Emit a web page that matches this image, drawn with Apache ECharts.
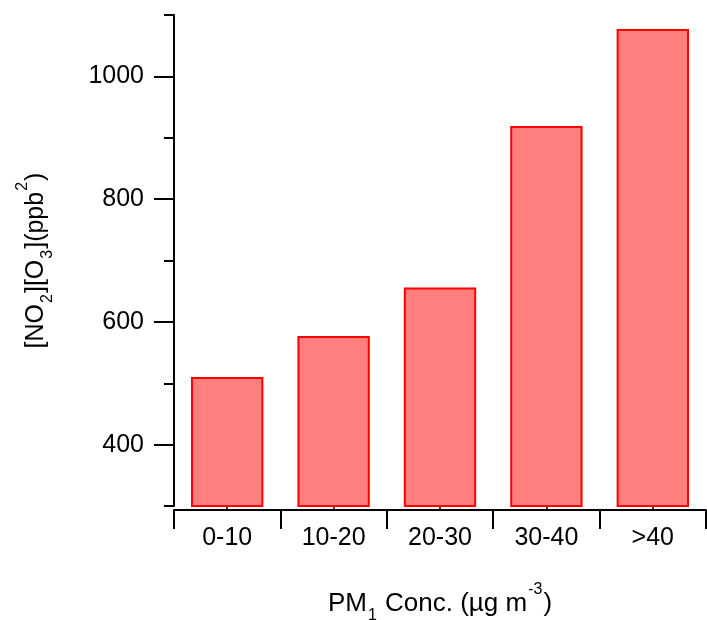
<!DOCTYPE html>
<html>
<head>
<meta charset="utf-8">
<script src="https://cdn.jsdelivr.net/npm/echarts@6/dist/echarts.min.js"></script>
<style>
  html, body { margin: 0; padding: 0; background: #fff; }
  #chart { width: 707px; height: 620px; }
</style>
</head>
<body>
<div id="chart"></div>
<script>
// PM1 concentration bins and the mean [NO2][O3] product in each bin
const categories = ['0-10', '10-20', '20-30', '30-40', '>40'];
const values = [510, 577, 656, 919, 1077];

// Left axis runs 300..1100 in steps of 100; every other step carries a label
const yMin = 300;
const yMax = 1100;
const yStep = 100;
const yTickLabels = ['300', '400', '500', '600', '700', '800', '900', '1000', '1100'];

const FONT = 'Liberation Sans, Arial, sans-serif';
const black = '#000';

const chart = echarts.init(document.getElementById('chart'), null, { renderer: 'canvas' });

function nameRich(size) {
  return {
    n: { fontFamily: FONT, fontSize: size, color: black, lineHeight: size + 6 },
    sub: { fontFamily: FONT, fontSize: 16, color: black, lineHeight: 16, verticalAlign: 'bottom', padding: [0, 1, -4, 1] },
    sup: { fontFamily: FONT, fontSize: 16, color: black, lineHeight: 16, verticalAlign: 'top', padding: [-6, 1, 0, 1] }
  };
}

chart.setOption({
  animation: false,
  backgroundColor: '#fff',
  grid: { left: 174, right: 1, top: 15, bottom: 114, containLabel: false, outerBoundsMode: 'none' },
  xAxis: [
    {
      type: 'category',
      data: categories,
      boundaryGap: true,
      offset: 4,
      axisLine: { lineStyle: { color: black, width: 2 } },
      axisTick: { show: true, length: 19, lineStyle: { color: black, width: 2 } },
      axisLabel: { color: black, fontFamily: FONT, fontSize: 25, margin: 16 },
      name: '{n|PM}{sub|1}{n| Conc. (µg m}{sup|-3}{n|)}',
      nameLocation: 'middle',
      nameGap: 78,
      nameTextStyle: { rich: nameRich(26) }
    },
    {
      type: 'category',
      data: categories,
      position: 'bottom',
      offset: 4,
      boundaryGap: true,
      axisLine: { show: false },
      axisTick: { show: true, alignWithLabel: true, inside: true, length: 3, lineStyle: { color: black, width: 1.5 } },
      axisLabel: { show: false }
    }
  ],
  yAxis: [
    {
      type: 'value',
      min: yMin,
      max: yMax,
      interval: yStep,
      axisLine: { show: true, lineStyle: { color: black, width: 2 } },
      axisTick: { show: true, length: 10, lineStyle: { color: black, width: 2 } },
      axisLabel: { show: false },
      splitLine: { show: false },
      name: '{n|[NO}{sub|2}{n|][O}{sub|3}{n|](ppb}{sup|2}{n|)}',
      nameLocation: 'middle',
      nameGap: 122,
      nameRotate: 90,
      nameTextStyle: { rich: nameRich(25) }
    },
    {
      type: 'category',
      data: yTickLabels,
      boundaryGap: false,
      position: 'left',
      axisLine: { show: false },
      axisTick: { show: true, length: 20, interval: (i) => i % 2 === 1, lineStyle: { color: black, width: 2 } },
      axisLabel: { show: true, interval: (i) => i % 2 === 1, color: black, fontFamily: FONT, fontSize: 25, margin: 30 },
      splitLine: { show: false }
    }
  ],
  series: [
    {
      type: 'bar',
      xAxisIndex: 0,
      yAxisIndex: 0,
      data: values,
      barCategoryGap: '32%',
      itemStyle: { color: '#ff7f7f', borderColor: '#ff0000', borderWidth: 2 }
    }
  ]
});
</script>
</body>
</html>
